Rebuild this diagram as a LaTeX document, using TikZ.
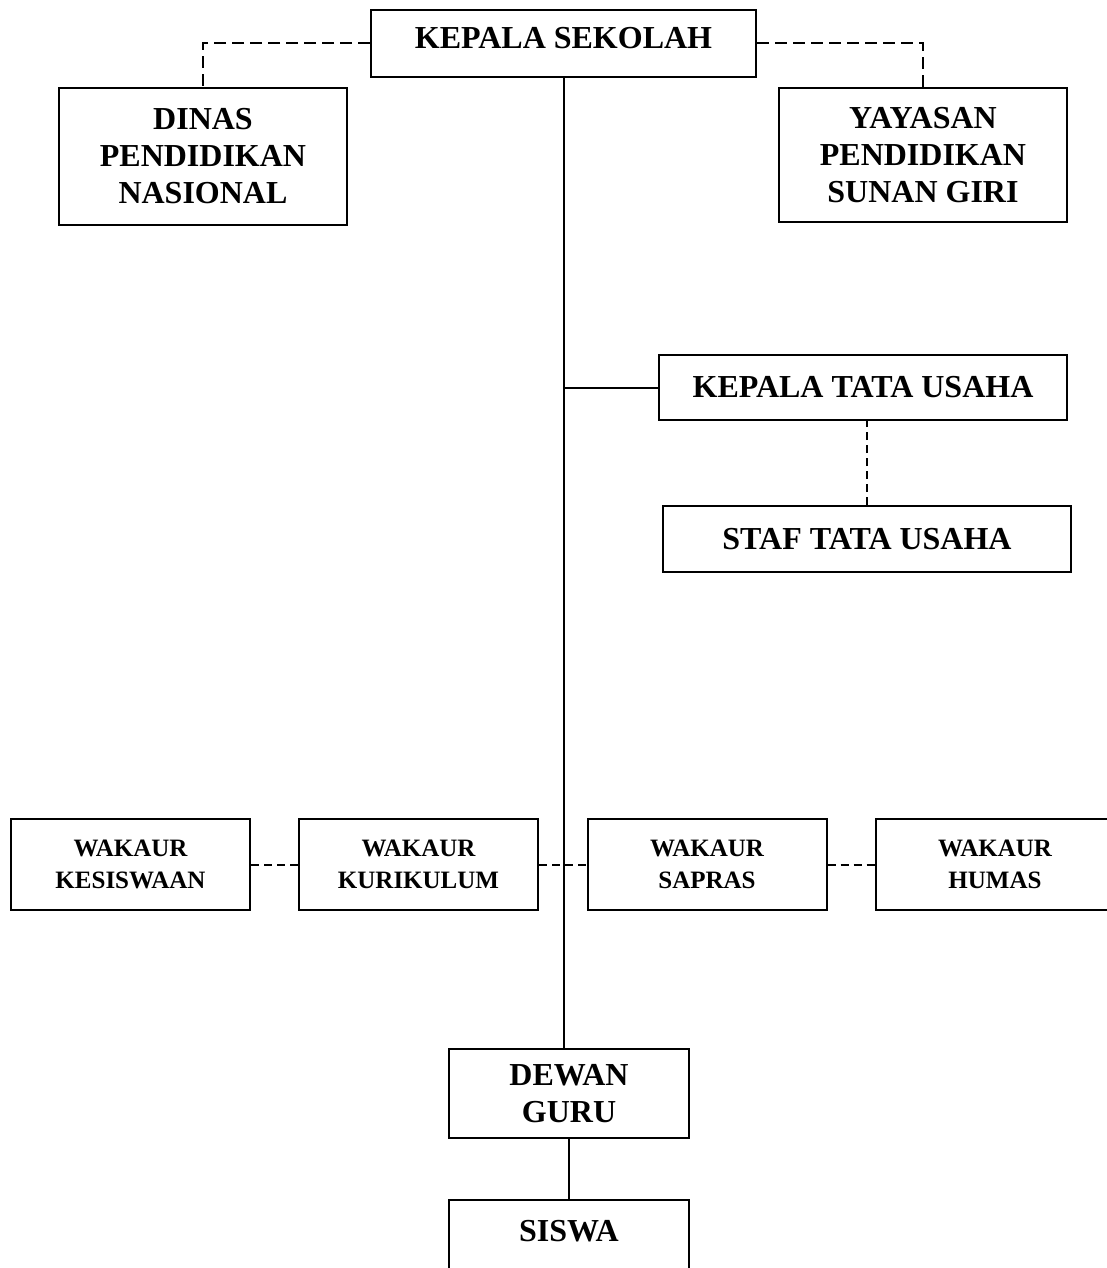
\documentclass[tikz,border=0pt]{standalone}
\usepackage{fontspec}
\setmainfont{Liberation Serif}
\begin{document}
\begin{tikzpicture}[x={1pt},y={-1pt},
  box/.style={draw, line width=2pt, inner sep=0pt, align=center,
    font=\bfseries\fontsize{32}{37}\selectfont},
  wbox/.style={box, minimum width=239pt, minimum height=91pt,
    font=\bfseries\fontsize{25}{32}\selectfont},
  solidline/.style={line width=2pt},
  dline/.style={line width=2pt, dash pattern=on 12pt off 6pt},
  sdline/.style={line width=2pt, dash pattern=on 8pt off 5pt}]
\useasboundingbox (0,0) rectangle (1107,1268);
\clip (0,0) rectangle (1107,1268);

\node[box, minimum width=385pt, minimum height=67pt, text depth=11pt] (ks) at (563.5,43.5) {KEPALA SEKOLAH};
\node[box, minimum width=288pt, minimum height=137pt] (dinas) at (203,156.5) {DINAS\\PENDIDIKAN\\NASIONAL};
\node[box, minimum width=288pt, minimum height=134pt] (yay) at (923,155) {YAYASAN\\PENDIDIKAN\\SUNAN GIRI};
\node[box, minimum width=408pt, minimum height=65pt] (kta) at (863,387.5) {KEPALA TATA USAHA};
\node[box, minimum width=408pt, minimum height=66pt] (staf) at (867,539) {STAF TATA USAHA};

\node[wbox] (kes) at (130.5,864.5) {WAKAUR\\KESISWAAN};
\node[wbox] (kur) at (418.5,864.5) {WAKAUR\\KURIKULUM};
\node[wbox] (sap) at (707,864.5) {WAKAUR\\SAPRAS};
\node[wbox] (hum) at (995,864.5) {WAKAUR\\HUMAS};

\node[box, minimum width=240pt, minimum height=89pt] (dg) at (569,1093.5) {DEWAN\\GURU};
\node[box, minimum width=240pt, minimum height=89pt, text depth=28pt] (sis) at (569,1244.5) {SISWA};

% connectors
\draw[dline] (ks.west) -| (dinas.north);
\draw[dline] (ks.east) -| (yay.north);
\draw[solidline] (ks.south) -- (ks.south |- dg.north);
\draw[solidline] (kta.west) -- (kta.west -| ks.south);
\draw[sdline] (staf.north) -- (staf.north |- kta.south);
\draw[sdline] (kes.east) -- (kur.west);
\draw[sdline] (kur.east) -- (sap.west);
\draw[sdline] (sap.east) -- (hum.west);
\draw[solidline] (dg.south) -- (sis.north);
\end{tikzpicture}
\end{document}
